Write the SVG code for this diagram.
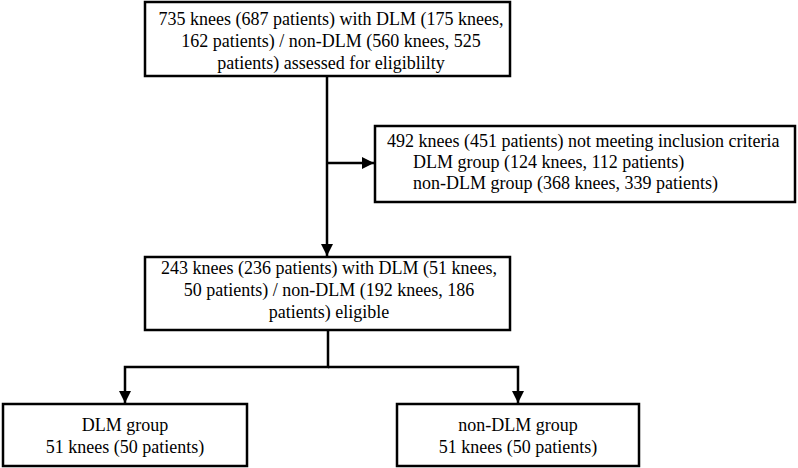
<svg xmlns="http://www.w3.org/2000/svg" width="798" height="468" viewBox="0 0 798 468">
<defs>
<marker id="ah" markerWidth="12" markerHeight="12" viewBox="0 0 12 12" refX="12" refY="6" orient="auto" markerUnits="userSpaceOnUse">
<path d="M0,0 L12,6 L0,12 Z" fill="#000"/>
</marker>
</defs>
<rect width="798" height="468" fill="#fff"/>
<g id="connectors" fill="none" stroke="#000" stroke-width="2.5">
<line x1="327" y1="76" x2="327" y2="256" marker-end="url(#ah)"/>
<line x1="327" y1="163" x2="374" y2="163" marker-end="url(#ah)"/>
<polyline points="328,330 328,367 125,367 125,403" marker-end="url(#ah)"/>
<polyline points="328,367 518,367 518,403" marker-end="url(#ah)"/>
</g>
<g id="n1">
<rect x="145" y="2" width="365" height="74" fill="#fff" stroke="#000" stroke-width="2.5"/>
<text font-family="Liberation Serif" font-size="18" text-anchor="middle" x="331" y="25">735 knees (687 patients) with DLM (175 knees,</text>
<text font-family="Liberation Serif" font-size="18" text-anchor="middle" x="331" y="47">162 patients) / non-DLM (560 knees, 525</text>
<text font-family="Liberation Serif" font-size="18" text-anchor="middle" x="331" y="69">patients) assessed for eligiblilty</text>
</g>
<g id="n2">
<rect x="375" y="126" width="420" height="76" fill="#fff" stroke="#000" stroke-width="2.5"/>
<text font-family="Liberation Serif" font-size="18" x="387" y="147">492 knees (451 patients) not meeting inclusion criteria</text>
<text font-family="Liberation Serif" font-size="18" x="413" y="168">DLM group (124 knees, 112 patients)</text>
<text font-family="Liberation Serif" font-size="18" x="413" y="189">non-DLM group (368 knees, 339 patients)</text>
</g>
<g id="n3">
<rect x="145" y="257" width="365" height="73" fill="#fff" stroke="#000" stroke-width="2.5"/>
<text font-family="Liberation Serif" font-size="18" text-anchor="middle" x="329" y="274">243 knees (236 patients) with DLM (51 knees,</text>
<text font-family="Liberation Serif" font-size="18" text-anchor="middle" x="329" y="296">50 patients) / non-DLM (192 knees, 186</text>
<text font-family="Liberation Serif" font-size="18" text-anchor="middle" x="329" y="318">patients) eligible</text>
</g>
<g id="n4">
<rect x="3" y="404" width="244" height="62" fill="#fff" stroke="#000" stroke-width="2.5"/>
<text font-family="Liberation Serif" font-size="18" text-anchor="middle" x="125" y="431">DLM group</text>
<text font-family="Liberation Serif" font-size="18" text-anchor="middle" x="125" y="453">51 knees (50 patients)</text>
</g>
<g id="n5">
<rect x="397" y="404" width="242" height="62" fill="#fff" stroke="#000" stroke-width="2.5"/>
<text font-family="Liberation Serif" font-size="18" text-anchor="middle" x="518" y="431">non-DLM group</text>
<text font-family="Liberation Serif" font-size="18" text-anchor="middle" x="518" y="453">51 knees (50 patients)</text>
</g>
</svg>
